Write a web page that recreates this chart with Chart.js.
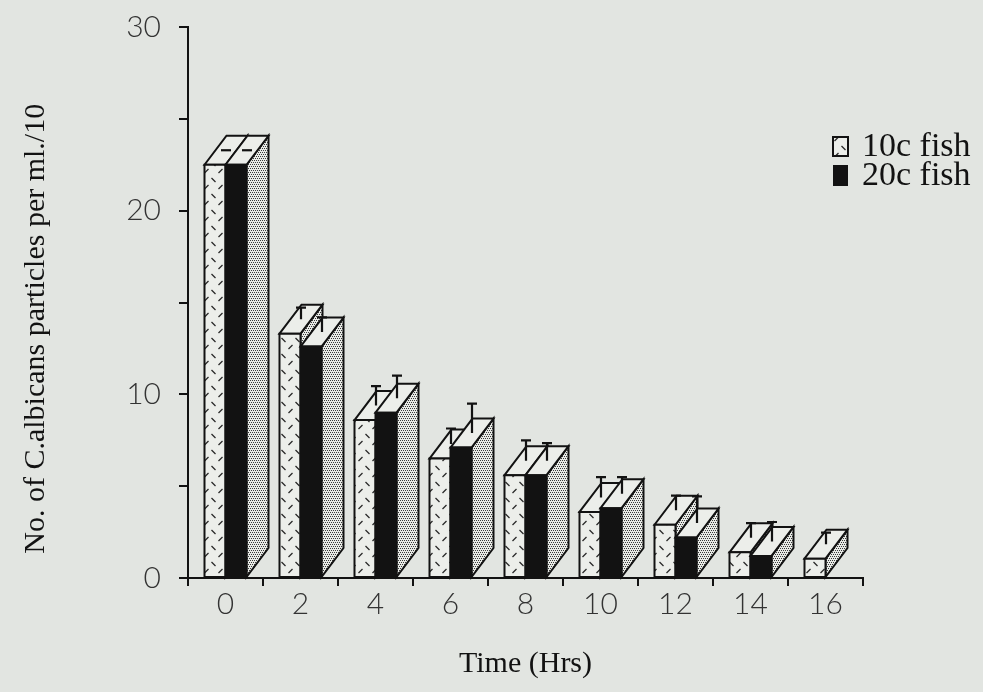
<!DOCTYPE html>
<html><head><meta charset="utf-8">
<script src="https://cdn.jsdelivr.net/npm/chart.js@4.4.0/dist/chart.umd.min.js"></script>
<style>
html,body{margin:0;padding:0;background:#e2e5e1;overflow:hidden;}
canvas{display:block;}
</style></head><body>
<canvas id="c" width="983" height="692"></canvas>
<script>
// ---- data ----
const categories = ['0','2','4','6','8','10','12','14','16'];
const fish10c = [22.5, 13.3, 8.6, 6.5, 5.6, 3.6, 2.9, 1.4, 1.05];
const fish20c = [22.5, 12.6, 9.0, 7.1, 5.6, 3.8, 2.2, 1.2, null];
const err10c  = [0, 0.63, 1.06, 0.85, 1.1, 1.1, 0.8, 0.8, 0.63];
const err20c  = [0, 0.8, 1.23, 1.6, 0.95, 0.9, 1.45, 1.06, null];
const seriesLabels = ['10c fish', '20c fish'];
const yLabelTicks = [0, 10, 20, 30];
const xTitle = 'Time (Hrs)';
const yTitle = 'No. of C.albicans particles per ml./10';

// ---- styles ----
const BG = '#e2e5e1';
const INK = '#121212';
const DEPTH_X = 22, DEPTH_Y = -29;

function makeHatch(ctx){
  const c = document.createElement('canvas'); c.width = 14; c.height = 16;
  const g = c.getContext('2d');
  g.fillStyle = '#eceeea'; g.fillRect(0,0,14,16);
  g.strokeStyle = '#2a2a2a'; g.lineWidth = 1.3;
  g.beginPath(); g.moveTo(1.5,2); g.lineTo(5.5,6); g.moveTo(12.5,9); g.lineTo(8.5,13); g.stroke();
  return ctx.createPattern(c, 'repeat');
}
function makeStipple(ctx){
  const c = document.createElement('canvas'); c.width = 4; c.height = 4;
  const g = c.getContext('2d');
  g.fillStyle = '#e8eae6'; g.fillRect(0,0,4,4);
  g.fillStyle = '#3a3a3a';
  [[0,0],[2,0],[1,2],[3,2]].forEach(p => g.fillRect(p[0],p[1],1,1));
  return ctx.createPattern(c, 'repeat');
}

function drawBox(ctx, x0, x1, yT, yB, front, top, side){
  ctx.save();
  ctx.lineWidth = 2; ctx.strokeStyle = INK; ctx.lineJoin = 'miter';
  ctx.beginPath();
  ctx.moveTo(x1, yT); ctx.lineTo(x1+DEPTH_X, yT+DEPTH_Y); ctx.lineTo(x1+DEPTH_X, yB+DEPTH_Y); ctx.lineTo(x1, yB); ctx.closePath();
  ctx.fillStyle = side; ctx.fill(); ctx.stroke();
  ctx.beginPath();
  ctx.moveTo(x0, yT); ctx.lineTo(x0+DEPTH_X, yT+DEPTH_Y); ctx.lineTo(x1+DEPTH_X, yT+DEPTH_Y); ctx.lineTo(x1, yT); ctx.closePath();
  ctx.fillStyle = top; ctx.fill(); ctx.stroke();
  ctx.beginPath(); ctx.rect(x0, yT, x1-x0, yB-yT);
  ctx.fillStyle = front; ctx.fill(); ctx.stroke();
  ctx.restore();
}

const box3d = {
  id: 'box3d',
  beforeDraw(chart){
    const ctx = chart.ctx; ctx.save(); ctx.fillStyle = BG; ctx.fillRect(0,0,chart.width,chart.height); ctx.restore();
  },
  afterDatasetsDraw(chart){
    const ctx = chart.ctx;
    const hatch = makeHatch(ctx), stipple = makeStipple(ctx);
    const yScale = chart.scales.y;
    const m0 = chart.getDatasetMeta(0), m1 = chart.getDatasetMeta(1);
    const fills = [hatch, INK];
    const errs = [err10c, err20c];
    const vals = [fish10c, fish20c];
    const bars = [];
    for (let i = 0; i < categories.length; i++){
      [m0, m1].forEach((m, k) => {
        if (vals[k][i] == null) return;
        const el = m.data[i];
        const p = el.getProps(['x','y','base','width'], true);
        const x0 = p.x - p.width/2, x1 = p.x + p.width/2;
        drawBox(ctx, x0, x1, p.y, p.base, fills[k], '#eceeea', stipple);
        bars.push({cx: p.x + DEPTH_X/2, cy: p.y + DEPTH_Y/2, v: vals[k][i], e: errs[k][i]});
      });
    }
    // error bars (drawn at centre of top face)
    ctx.save(); ctx.strokeStyle = INK; ctx.lineWidth = 2.2;
    bars.forEach(b => {
      if (b.e == null) return;
      const len = yScale.getPixelForValue(0) - yScale.getPixelForValue(b.e);
      const yt = b.cy - len;
      ctx.beginPath(); ctx.moveTo(b.cx, b.cy); ctx.lineTo(b.cx, yt);
      ctx.moveTo(b.cx-5, yt); ctx.lineTo(b.cx+5, yt); ctx.stroke();
    });
    ctx.restore();
  },
  afterDraw(chart){
    const ctx = chart.ctx, a = chart.chartArea;
    const hatch = makeHatch(ctx);
    const bx = a.right - 30;
    ctx.save();
    ctx.lineWidth = 2; ctx.strokeStyle = INK;
    ctx.fillStyle = hatch; ctx.fillRect(bx, a.top+110, 15, 19); ctx.strokeRect(bx, a.top+110, 15, 19);
    ctx.fillStyle = INK; ctx.fillRect(bx, a.top+138, 15, 21);
    ctx.fillStyle = INK; ctx.font = '34px "Liberation Serif"'; ctx.textBaseline = 'middle'; ctx.textAlign = 'left';
    ctx.fillText(seriesLabels[0], a.right - 1, a.top + 120);
    ctx.fillText(seriesLabels[1], a.right - 1, a.top + 149);
    ctx.restore();
  }
};

Chart.defaults.font.family = 'Lato';
new Chart(document.getElementById('c'), {
  type: 'bar',
  data: {
    labels: categories,
    datasets: [
      {label: seriesLabels[0], data: fish10c, backgroundColor: 'rgba(0,0,0,0)', borderWidth: 0},
      {label: seriesLabels[1], data: fish20c, backgroundColor: 'rgba(0,0,0,0)', borderWidth: 0}
    ]
  },
  options: {
    responsive: false, animation: false, devicePixelRatio: 1,
    categoryPercentage: 0.56, barPercentage: 1.0,
    layout: {padding: {top: 27, right: 120, bottom: 0, left: 0}},
    plugins: {legend: {display: false}, tooltip: {enabled: false}},
    scales: {
      x: {
        afterFit(s){ s.height = 114; s.paddingLeft = 0; s.paddingRight = 0; },
        ticks: {padding: 0, color: '#333', font: {family: 'Lato', size: 30, weight: '300'}},
        grid: {drawOnChartArea: false, tickLength: 8, color: INK, lineWidth: 2, offset: true},
        border: {display: true, color: INK, width: 2},
        title: {display: true, text: xTitle, color: INK, font: {family: 'Liberation Serif', size: 30, weight: 'normal'}, padding: {top: 0, bottom: 10}}
      },
      y: {
        min: 0, max: 30,
        afterFit(s){ s.width = 188; s.paddingTop = 0; s.paddingBottom = 0; },
        ticks: {stepSize: 5, autoSkip: false, padding: 18, color: '#333', font: {family: 'Lato', size: 30, weight: '300'},
                callback: v => yLabelTicks.includes(v) ? String(v) : ''},
        grid: {drawOnChartArea: false, tickLength: 9, color: INK, lineWidth: 2},
        border: {display: true, color: INK, width: 2},
        title: {display: true, text: yTitle + '\u00a0\u00a0\u00a0\u00a0\u00a0\u00a0\u00a0', color: INK, font: {family: 'Liberation Serif', size: 30, weight: 'normal'}, padding: {top: 18, bottom: 0}}
      }
    }
  },
  plugins: [box3d]
});
</script>
</body></html>
